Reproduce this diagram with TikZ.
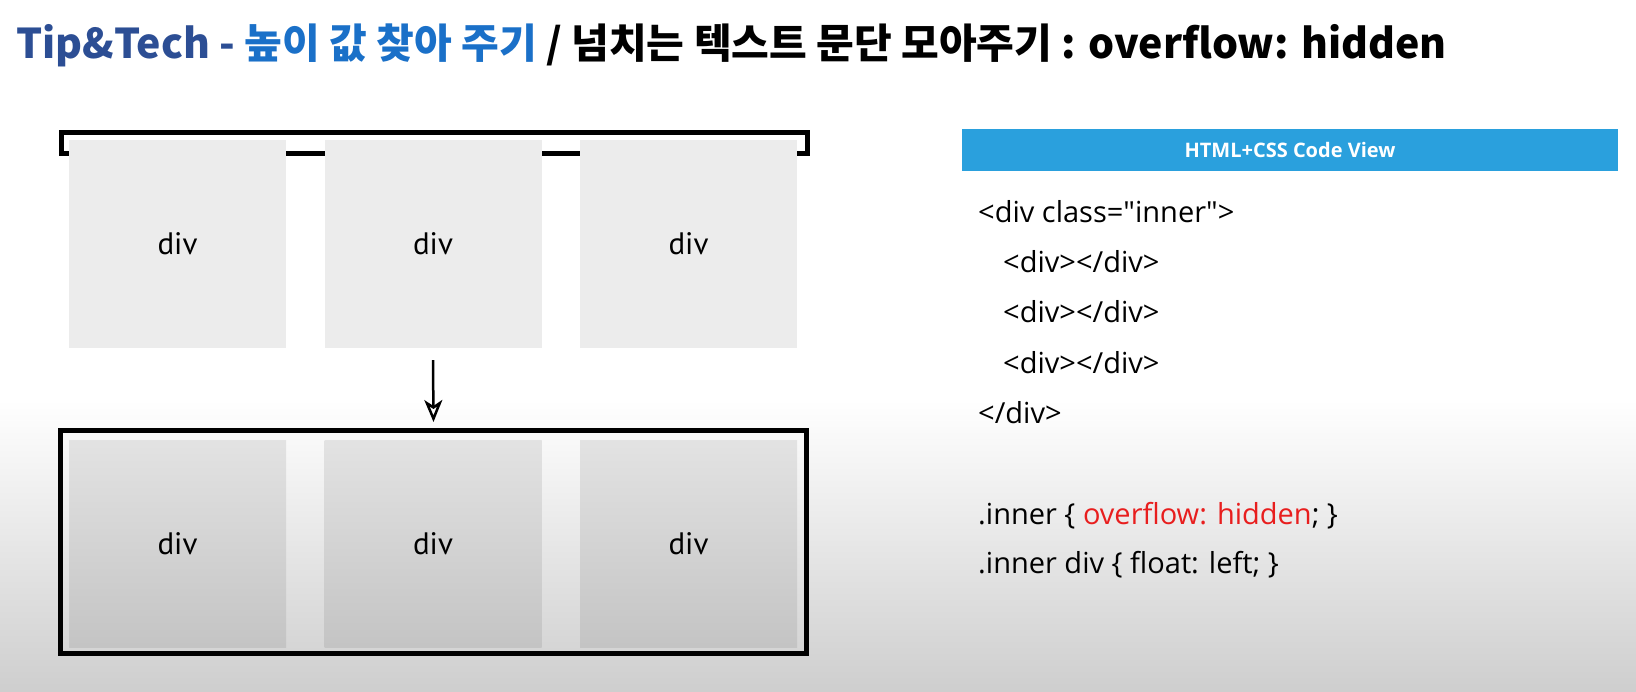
\documentclass[tikz,border=0pt]{standalone}
\usepackage{fontspec}
\setmainfont{Open Sans}
\newfontfamily\krfont{Noto Sans CJK KR}
\newfontfamily\divfont{PT Sans}
\usetikzlibrary{arrows.meta}

\definecolor{tipdark}{RGB}{44,78,148}
\definecolor{tipblue}{RGB}{26,112,200}
\definecolor{hdrblue}{RGB}{42,160,221}
\definecolor{boxgray}{RGB}{236,236,236}
\definecolor{bggray}{RGB}{206,206,206}
\definecolor{codered}{RGB}{232,30,30}

\begin{document}
\begin{tikzpicture}[x=1pt, y=-1pt,
  divbox/.style={fill=boxgray, minimum width=217pt, minimum height=208pt,
    inner sep=0pt, font=\divfont\fontsize{31}{36}\selectfont},
  fadebox/.style={divbox, minimum height=207pt,
    top color=boxgray!96!black, bottom color=boxgray!83!black},
  wrapper/.style={draw, line width=5pt, inner sep=0pt, minimum width=746pt},
  codeline/.style={anchor=base west, inner sep=0pt,
    font=\fontsize{29}{34}\selectfont}]

  \useasboundingbox (0,0) rectangle (1636,692);
  \shade[top color=white, bottom color=bggray] (0,400) rectangle (1636,692);

  %% title
  \node[anchor=base west, inner sep=0pt,
    font=\krfont\bfseries\fontsize{41}{48}\selectfont] (title) at (16,59)
  {\textcolor{tipdark}{Tip\&Tech -} \textcolor{tipblue}{높이 값 찾아 주기}
    / 넘치는 텍스트 문단 모아주기 : overflow: hidden};

  %% before: divs stick out of the wrapper
  \node[wrapper, minimum height=21pt] (topwrap) at (434,143.5) {};
  \node[divbox] (t1) at (177.5,244) {div};
  \node[divbox] (t2) at (433,244) {div};
  \node[divbox] (t3) at (688.5,244) {div};

  %% after: overflow hidden
  \node[wrapper, minimum height=223pt] (botwrap) at (433.5,542) {};
  \node[fadebox] (b1) at (177.5,543.5) {div};
  \node[fadebox] (b2) at (433,543.5) {div};
  \node[fadebox] (b3) at (688.5,543.5) {div};

  \draw[line width=2.5pt,
    -{Stealth[open, length=22pt, width=18pt, inset=6pt]}]
  ([yshift=-12pt]t2.south) -- ([yshift=6pt]botwrap.north);

  %% code view
  \node[fill=hdrblue, minimum width=656pt, minimum height=42pt, text=white,
    font=\bfseries\fontsize{20}{24}\selectfont] (hdr) at (1290,150)
  {HTML+CSS Code View};

  \node[codeline] (c1) at (978,223)
  {<div class=\textquotedbl inner\textquotedbl>};
  \node[codeline] (c2) at (1003,273) {<div></div>};
  \node[codeline] (c3) at (1003,323) {<div></div>};
  \node[codeline] (c4) at (1003,374) {<div></div>};
  \node[codeline] (c5) at (978,424) {</div>};
  \node[codeline] (c6) at (978,524)
  {.inner \{ \textcolor{codered}{overflow: hidden}; \}};
  \node[codeline] (c7) at (978,573) {.inner div \{ float: left; \}};

\end{tikzpicture}
\end{document}
